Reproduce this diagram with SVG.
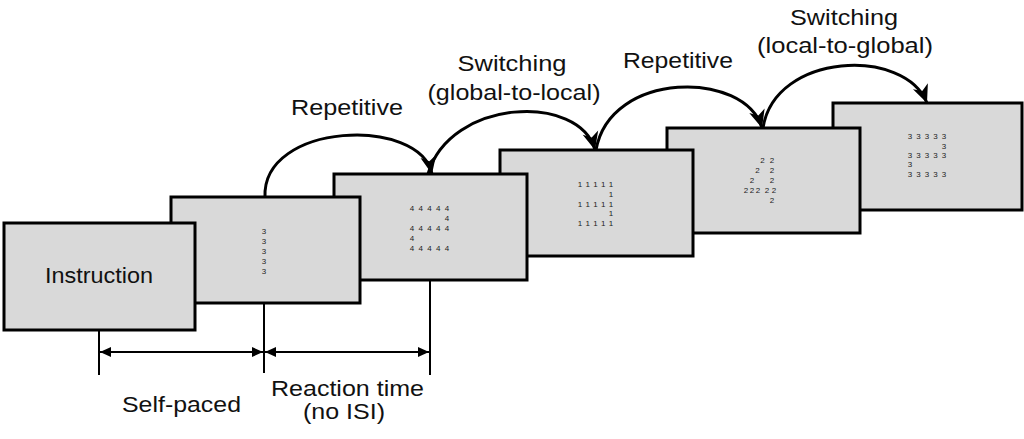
<svg xmlns="http://www.w3.org/2000/svg" width="1024" height="439" viewBox="0 0 1024 439">
<style>
.box{fill:#d9d9d9;stroke:#000;stroke-width:3}
.lbl{font-family:"Liberation Sans",Arial,sans-serif;font-size:22px;fill:#111;text-anchor:middle}
.dg{font-family:"Liberation Sans",Arial,sans-serif;font-size:8px;fill:#222;text-anchor:middle}
.arc{fill:none;stroke:#000;stroke-width:3}
.tick{stroke:#000;stroke-width:2}
.dim{stroke:#000;stroke-width:2;fill:none}
</style>
<defs>
<marker id="ah" markerUnits="userSpaceOnUse" markerWidth="22" markerHeight="20" viewBox="-19 -10 20 20" refX="0" refY="0" orient="auto">
<path d="M0,0 L-18,-8 L-13,0 L-18,8 Z" fill="#000"/>
</marker>
<marker id="dh" markerUnits="userSpaceOnUse" markerWidth="14" markerHeight="12" viewBox="-12 -6 13 12" refX="0" refY="0" orient="auto-start-reverse">
<path d="M0,0 L-11,-5 L-11,5 Z" fill="#000"/>
</marker>
</defs>
<rect width="1024" height="439" fill="#fff"/>

<g id="screen6">
<rect class="box" x="833" y="103" width="189" height="107"/>
<text class="dg" x="910 914.25 918.5 922.75 927 931.25 935.5 939.75 944" y="139">3 3 3 3 3</text>
<text class="dg" x="944" y="149">3</text>
<text class="dg" x="910 914.25 918.5 922.75 927 931.25 935.5 939.75 944" y="158">3 3 3 3 3</text>
<text class="dg" x="910" y="167">3</text>
<text class="dg" x="910 914.25 918.5 922.75 927 931.25 935.5 939.75 944" y="177">3 3 3 3 3</text>
</g>

<g id="screen5">
<rect class="box" x="667" y="128" width="193" height="105"/>
<text class="dg" x="762.5 767 772" y="163">2 2</text>
<text class="dg" x="757.5 765 772" y="173">2 2</text>
<text class="dg" x="752 762 772" y="183">2 2</text>
<text class="dg" x="746 749 752 755 758 762.5 767 770.5 774" y="193">2 2 2 2 2</text>
<text class="dg" x="772" y="203">2</text>
</g>

<g id="screen4">
<rect class="box" x="500" y="150" width="193" height="106"/>
<text class="dg" x="580 583.9 587.75 591.6 595.5 599.4 603.25 607.1 611" y="187">1 1 1 1 1</text>
<text class="dg" x="611" y="197">1</text>
<text class="dg" x="580 583.9 587.75 591.6 595.5 599.4 603.25 607.1 611" y="207">1 1 1 1 1</text>
<text class="dg" x="611" y="216">1</text>
<text class="dg" x="580 583.9 587.75 591.6 595.5 599.4 603.25 607.1 611" y="226">1 1 1 1 1</text>
</g>

<g id="screen3">
<rect class="box" x="334" y="174" width="193" height="106"/>
<text class="dg" x="412 416.4 420.75 425.1 429.5 433.9 438.25 442.6 447" y="211">4 4 4 4 4</text>
<text class="dg" x="447" y="221">4</text>
<text class="dg" x="412 416.4 420.75 425.1 429.5 433.9 438.25 442.6 447" y="231">4 4 4 4 4</text>
<text class="dg" x="412" y="241">4</text>
<text class="dg" x="412 416.4 420.75 425.1 429.5 433.9 438.25 442.6 447" y="251">4 4 4 4 4</text>
</g>

<g id="screen2">
<rect class="box" x="171" y="197" width="189" height="106"/>
<text class="dg" x="264" y="234">3</text>
<text class="dg" x="264" y="244">3</text>
<text class="dg" x="264" y="254">3</text>
<text class="dg" x="264" y="264">3</text>
<text class="dg" x="264" y="274">3</text>
</g>

<g id="instruction">
<rect class="box" x="4" y="223" width="191" height="107"/>
<text class="lbl" x="99" y="283" textLength="108" lengthAdjust="spacingAndGlyphs">Instruction</text>
</g>

<g id="connectors">
<path class="arc" d="M265,197 C262,122 420,116 432,174" marker-end="url(#ah)"/>
<path class="arc" d="M428,174 C450,98 580,93 595,150" marker-end="url(#ah)"/>
<path class="arc" d="M596,150 C610,70 745,70 762,128" marker-end="url(#ah)"/>
<path class="arc" d="M763,128 C775,52 905,47 927,103" marker-end="url(#ah)"/>
<line class="tick" x1="99" y1="331" x2="99" y2="375"/>
<line class="tick" x1="264" y1="304" x2="264" y2="373"/>
<line class="tick" x1="430" y1="281" x2="430" y2="375"/>
<line class="dim" x1="100" y1="352" x2="263" y2="352" marker-start="url(#dh)" marker-end="url(#dh)"/>
<line class="dim" x1="265" y1="352" x2="429" y2="352" marker-start="url(#dh)" marker-end="url(#dh)"/>
</g>

<g id="labels">
<text class="lbl" x="347" y="115" textLength="112" lengthAdjust="spacingAndGlyphs">Repetitive</text>
<text class="lbl"><tspan x="512" y="71" textLength="109" lengthAdjust="spacingAndGlyphs">Switching</tspan><tspan x="514" y="100" textLength="173" lengthAdjust="spacingAndGlyphs">(global-to-local)</tspan></text>
<text class="lbl" x="678" y="68" textLength="110" lengthAdjust="spacingAndGlyphs">Repetitive</text>
<text class="lbl"><tspan x="844" y="25" textLength="108" lengthAdjust="spacingAndGlyphs">Switching</tspan><tspan x="845" y="53" textLength="176" lengthAdjust="spacingAndGlyphs">(local-to-global)</tspan></text>
<text class="lbl" x="181.5" y="412" textLength="119" lengthAdjust="spacingAndGlyphs">Self-paced</text>
<text class="lbl"><tspan x="347.5" y="396" textLength="153" lengthAdjust="spacingAndGlyphs">Reaction time</tspan><tspan x="344" y="419" textLength="82" lengthAdjust="spacingAndGlyphs">(no ISI)</tspan></text>
</g>
</svg>
